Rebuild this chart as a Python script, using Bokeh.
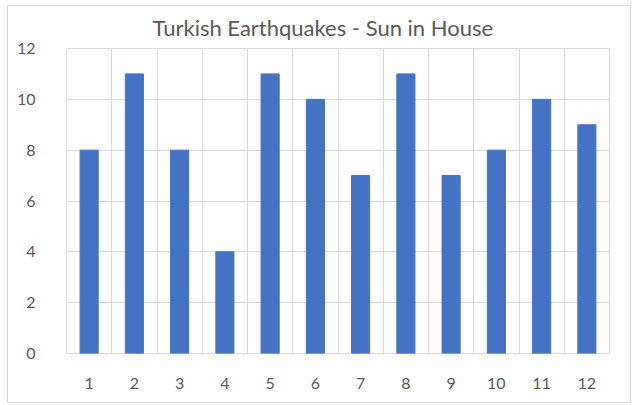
from bokeh.plotting import figure
from bokeh.models import FixedTicker, Grid, Range1d
from bokeh.embed import file_html
from bokeh.resources import INLINE

categories = ["1", "2", "3", "4", "5", "6", "7", "8", "9", "10", "11", "12"]
values = [8, 11, 8, 4, 11, 10, 7, 11, 7, 8, 10, 9]
y_ticks = [0, 2, 4, 6, 8, 10, 12]
title_text = "Turkish Earthquakes - Sun in House"

xs = list(range(1, len(categories) + 1))
FONT = "Lato"
TXT = "#595959"
GRID = "#d9d9d9"

p = figure(width=624, height=398, output_backend="svg", toolbar_location=None,
           x_range=Range1d(0.5, len(categories) + 0.5), y_range=Range1d(0, 12),
           min_border_left=58, min_border_right=23, min_border_top=42, min_border_bottom=51,
           title=title_text)
p.styles = {"border": "1px solid #d9d9d9", "margin-left": "7px", "margin-top": "5px"}

p.vbar(x=xs, top=values, width=0.4, color="#4472C4")

p.title.align = "left"
p.title.offset = 86
p.title.standoff = 12
p.title.vertical_align = "top"
p.title.text_font = FONT
p.title.text_font_size = "22px"
p.title.text_font_style = "normal"
p.title.text_color = TXT

p.xaxis.ticker = FixedTicker(ticks=xs)
p.xaxis.major_label_overrides = {x: c for x, c in zip(xs, categories)}
p.yaxis.ticker = FixedTicker(ticks=y_ticks)
for ax in (p.xaxis, p.yaxis):
    ax.axis_line_color = None
    ax.major_tick_line_color = None
    ax.minor_tick_line_color = None
    ax.major_label_text_font = FONT
    ax.major_label_text_font_size = "16px"
    ax.major_label_text_color = TXT
p.yaxis.major_label_standoff = 25
p.xaxis.major_label_standoff = 18

p.xgrid.visible = False
p.ygrid.grid_line_color = GRID
vgrid = Grid(dimension=0, ticker=FixedTicker(ticks=[x - 0.5 for x in xs] + [xs[-1] + 0.5]),
             grid_line_color=GRID)
p.add_layout(vgrid)
p.outline_line_color = GRID

open("out.html", "w").write(file_html(p, INLINE))
